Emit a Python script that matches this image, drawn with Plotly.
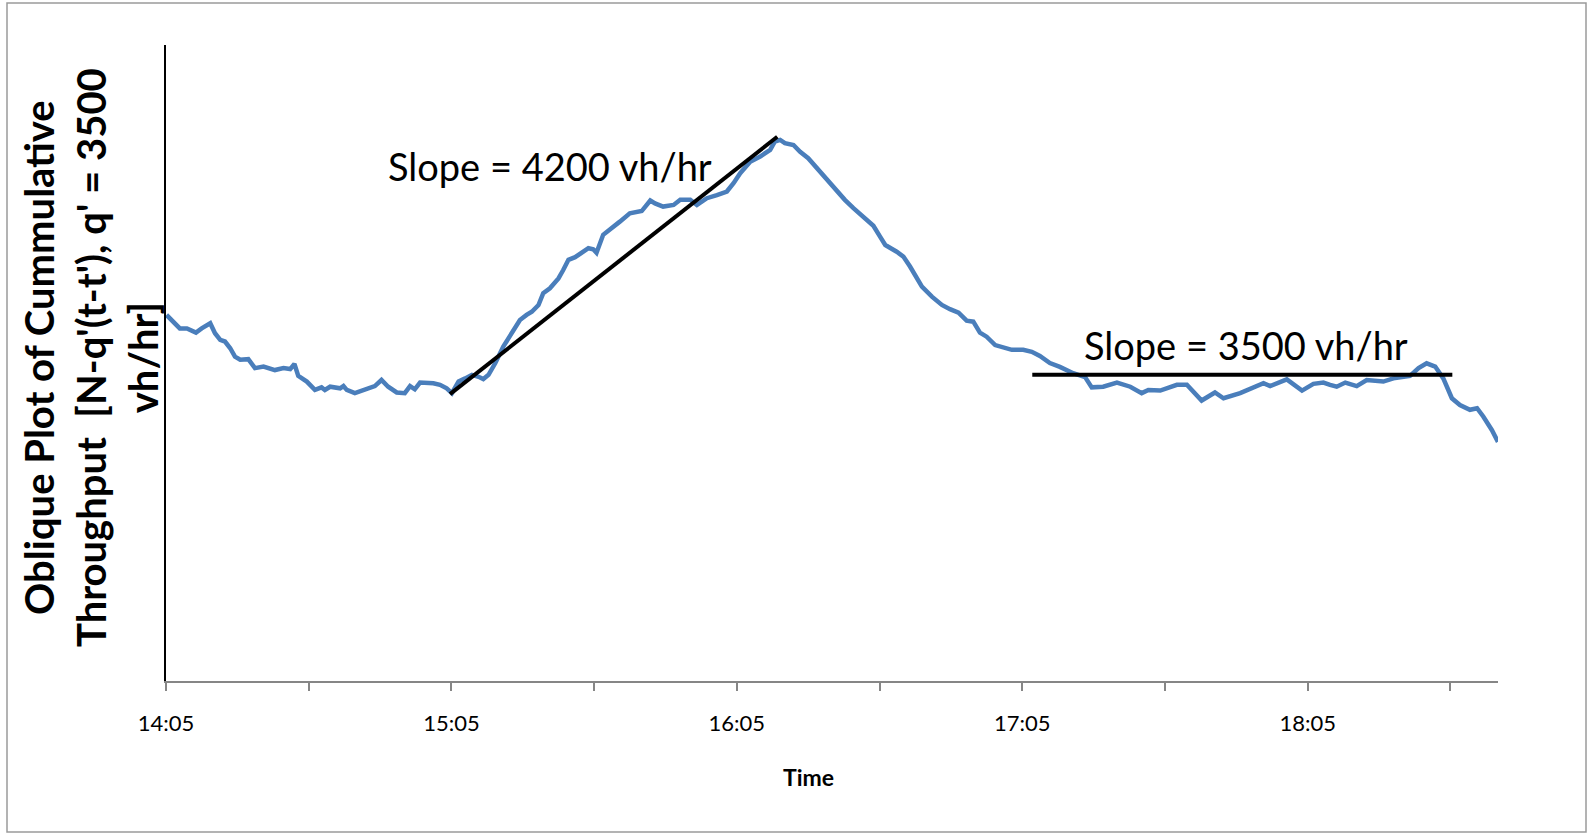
import plotly.graph_objects as go

# ---- data ----
# time in minutes after 14:05
minutes = [0.1, 1.2, 2.9, 4.4, 5.7, 6.3, 7.5, 9.3, 10.3, 11.4, 12.4, 13.5, 14.5, 15.6, 17.3, 18.7,
           20.5, 22.9, 24.7, 26.1, 27.0, 27.8, 29.6, 31.3, 32.7, 33.4, 34.5, 36.6, 37.3, 38.0, 39.7,
           41.5, 42.9, 43.9, 45.3, 46.7, 48.5, 50.2, 51.3, 52.3, 53.4, 56.2, 57.6, 59.0, 60.1, 61.5,
           62.9, 64.3, 65.7, 66.7, 67.8, 69.2, 70.9, 72.7, 74.4, 75.8, 76.9, 78.3, 79.3, 80.7, 82.5,
           83.5, 84.6, 86.0, 87.4, 88.8, 89.8, 90.5, 91.9, 93.3, 95.4, 97.5, 100.0, 101.8, 102.8,
           104.5, 106.7, 108.1, 110.2, 111.6, 113.7, 115.8, 117.9, 119.3, 120.7, 122.8, 124.9, 127.0,
           128.0, 129.1, 130.1, 131.9, 133.3, 135.0, 136.8, 138.9, 141.0, 142.7, 144.5, 146.6, 148.7,
           150.1, 151.2, 153.6, 155.0, 156.4, 157.8, 158.9, 161.0, 163.1, 164.8, 166.6, 168.3, 169.7,
           171.1, 172.5, 174.3, 176.0, 177.8, 180.2, 182.0, 183.7, 185.8, 187.9, 190.7, 193.2, 194.6,
           197.0, 199.9, 202.7, 205.1, 206.5, 209.0, 212.5, 214.6, 217.7, 220.5, 222.3, 225.8, 230.7,
           232.1, 235.6, 238.8, 241.2, 243.3, 244.7, 246.1, 247.9, 250.3, 252.4, 255.9, 258.0, 261.5,
           263.3, 265.0, 266.8, 268.5, 270.3, 272.0, 274.1, 275.6, 276.9, 278.7, 280.0]
# oblique cumulative count N - q'(t - t'), q' = 3500 vh/hr (vehicles, arbitrary origin)
oblique_count = [1142, 1124, 1100, 1100, 1093, 1087, 1100, 1116, 1085, 1064, 1059, 1038, 1012, 1002,
                 1004, 976, 981, 970, 976, 973, 989, 952, 934, 908, 916, 908, 918, 913, 920, 908, 898,
                 906, 913, 920, 939, 918, 900, 898, 920, 910, 931, 929, 924, 913, 898, 934, 944, 955,
                 949, 942, 955, 991, 1043, 1085, 1126, 1142, 1152, 1173, 1210, 1225, 1256, 1282, 1314,
                 1322, 1334, 1350, 1347, 1336, 1392, 1407, 1433, 1459, 1466, 1499, 1490, 1480, 1485,
                 1501, 1501, 1485, 1506, 1516, 1527, 1553, 1584, 1620, 1636, 1657, 1683, 1688, 1678,
                 1672, 1651, 1631, 1600, 1563, 1532, 1501, 1475, 1449, 1420, 1386, 1360, 1339, 1324,
                 1293, 1261, 1230, 1199, 1173, 1160, 1149, 1124, 1121, 1087, 1074, 1048, 1040, 1033,
                 1033, 1027, 1014, 992, 980, 960, 948, 916, 918, 931, 918, 898, 908, 906, 924, 924, 875,
                 900, 882, 898, 929, 920, 941, 906, 927, 931, 924, 918, 931, 920, 939, 934, 944, 952,
                 976, 991, 981, 944, 882, 861, 846, 851, 825, 783, 746]

q_ref = 3500  # vh/hr, oblique reference rate

# fitted slope lines: start time, end time, start value, flow (vh/hr)
slope1 = dict(t0=59.7, t1=128.5, v0=895, flow=4200)
slope2 = dict(t0=182.1, t1=270.4, v0=955, flow=3500)

tick_minutes = [0, 30, 60, 90, 120, 150, 180, 210, 240, 270]
tick_labels = ["14:05", "", "15:05", "", "16:05", "", "17:05", "", "18:05", ""]


def line_pts(s):
    v1 = s["v0"] + (s["flow"] - q_ref) * (s["t1"] - s["t0"]) / 60.0
    return [s["t0"], s["t1"]], [s["v0"], v1]


fig = go.Figure()
fig.add_trace(go.Scatter(x=minutes, y=oblique_count, mode="lines",
                         line=dict(color="#4a7ebb", width=4.5), showlegend=False))
for s in (slope1, slope2):
    xs, ys = line_pts(s)
    fig.add_trace(go.Scatter(x=xs, y=ys, mode="lines",
                             line=dict(color="black", width=4), showlegend=False))

FONT = "Lato"
fig.update_layout(
    width=1593, height=833,
    margin=dict(l=166, r=95, t=45, b=152),
    paper_bgcolor="white", plot_bgcolor="white",
    xaxis=dict(range=[0, 280], tickvals=tick_minutes, ticktext=tick_labels,
               showgrid=False, zeroline=False, showline=True, linecolor="#868686", linewidth=1.5,
               ticks="outside", ticklen=8, tickcolor="#868686", tickwidth=1.5,
               ticklabelstandoff=14,
               tickfont=dict(family=FONT, size=22, color="black")),
    yaxis=dict(range=[0, 1984], showgrid=False, zeroline=False, showline=True,
               linecolor="black", linewidth=1.5, showticklabels=False, ticks=""),
    font=dict(family=FONT, color="black"),
)

fig.add_annotation(x=(808 - 166) / 1332, y=(681 - 777) / 636, xref="paper", yref="paper",
                   text="<b>Time</b>", showarrow=False, xanchor="center", yanchor="middle",
                   font=dict(family=FONT, size=23, color="black"))
fig.add_annotation(x=(91 - 166) / 1332, y=(681 - 358) / 636, xref="paper", yref="paper",
                   text="<b>Oblique Plot of Cummulative<br>Throughput\u00a0\u00a0[N-q'(t-t'), q' = 3500<br>vh/hr]</b>",
                   textangle=-90, showarrow=False, xanchor="center", yanchor="middle", align="center",
                   font=dict(family=FONT, size=40, color="black"))
fig.add_annotation(x=80.7, y=1607, text="Slope = 4200 vh/hr", showarrow=False,
                   xanchor="center", yanchor="middle", font=dict(family=FONT, size=38, color="black"))
fig.add_annotation(x=227.0, y=1048, text="Slope = 3500 vh/hr", showarrow=False,
                   xanchor="center", yanchor="middle", font=dict(family=FONT, size=38, color="black"))

# outer chart-area border
fig.add_shape(type="rect", xref="paper", yref="paper",
              x0=(7 - 166) / 1332, x1=(1586 - 166) / 1332,
              y0=(681 - 832) / 636, y1=(681 - 3) / 636,
              line=dict(color="#9a9a9a", width=1.5), fillcolor="rgba(0,0,0,0)", layer="below")

fig.write_html("out.html")
